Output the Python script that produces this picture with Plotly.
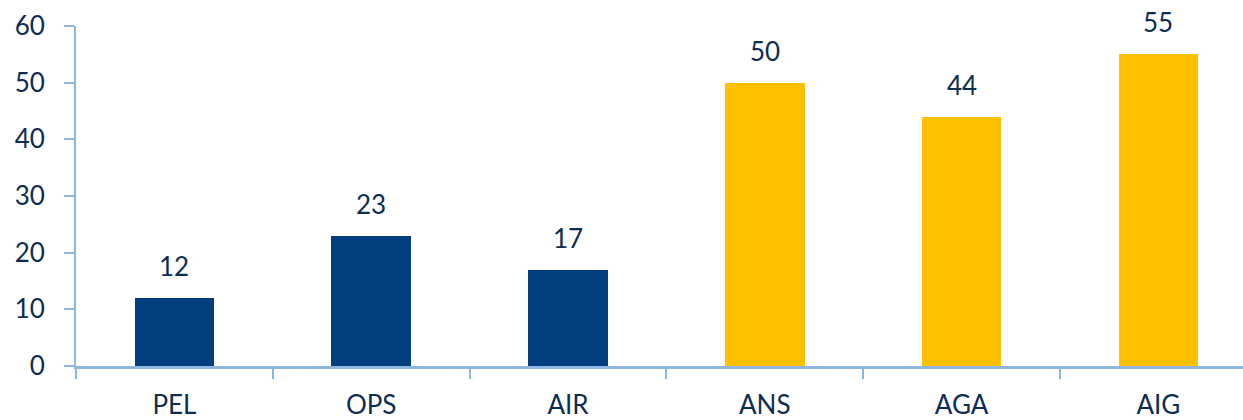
import plotly.graph_objects as go

categories = ["PEL", "OPS", "AIR", "ANS", "AGA", "AIG"]
values = [12, 23, 17, 50, 44, 55]
bar_colors = ["#023E7D", "#023E7D", "#023E7D", "#FFC000", "#FFC000", "#FFC000"]
y_ticks = [0, 10, 20, 30, 40, 50, 60]

text_color = "#0E2D52"
axis_color = "#8DB6E0"
font_family = "Lato, 'Open Sans', sans-serif"
fsize = 26

fig = go.Figure()
fig.add_trace(go.Bar(
    x=categories, y=values,
    marker=dict(color=bar_colors, line=dict(width=0)),
    width=0.405,
    hoverinfo="skip",
))

for c, v in zip(categories, values):
    fig.add_annotation(x=c, y=v, text=str(v), showarrow=False,
                       yanchor="bottom", yshift=14,
                       font=dict(size=fsize, color=text_color, family=font_family))

fig.update_layout(
    width=1243, height=420,
    margin=dict(l=76, r=0, t=26, b=54, autoexpand=False),
    paper_bgcolor="white", plot_bgcolor="white",
    showlegend=False,
    font=dict(family=font_family, size=fsize, color=text_color),
    bargap=0,
)
fig.update_xaxes(
    type="category", range=[-0.5, 5.43], automargin=False,
    showline=True, linecolor=axis_color, linewidth=3,
    ticks="outside", tickson="boundaries", ticklen=10, tickcolor=axis_color, tickwidth=2,
    showgrid=False, zeroline=False,
    ticklabelstandoff=14,
    tickfont=dict(size=fsize, color=text_color),
)
fig.update_yaxes(
    range=[0, 60], tickvals=y_ticks, automargin=False,
    showline=True, linecolor=axis_color, linewidth=2,
    ticks="outside", ticklen=10, tickcolor=axis_color, tickwidth=2,
    showgrid=False, zeroline=False,
    ticklabelstandoff=14,
    tickfont=dict(size=fsize, color=text_color),
)

fig.write_html("out.html", config={"displayModeBar": False},
               post_script="document.body.style.margin='0';document.body.style.overflow='hidden';")
